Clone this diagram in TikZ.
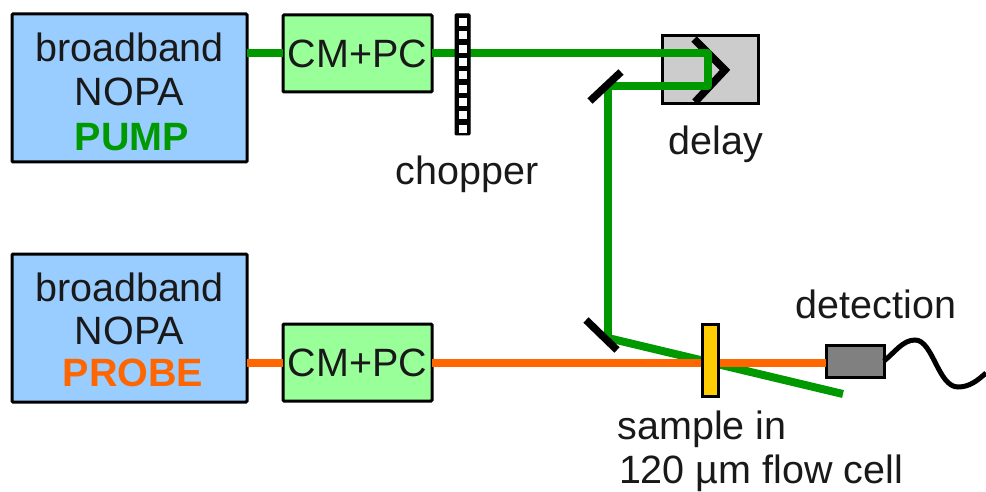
\documentclass[tikz,border=0pt]{standalone}
\usepackage{fontspec}
\setmainfont{Liberation Sans}
\definecolor{boxblue}{RGB}{153,204,255}
\definecolor{boxgreen}{RGB}{153,255,153}
\definecolor{beamgreen}{RGB}{0,153,0}
\definecolor{beamorange}{RGB}{255,102,0}
\definecolor{samplecol}{RGB}{255,204,0}
\definecolor{textdark}{RGB}{25,25,25}
\tikzset{
  every node/.style={font=\fontsize{39.5}{46}\selectfont,text=textdark,inner sep=0pt,outer sep=0pt},
  box/.style={draw=black,line width=3pt,rounded corners=1pt,minimum width=#1},
  nopa/.style={box=235pt,fill=boxblue,minimum height=148pt,align=center},
  cmpc/.style={box=149pt,fill=boxgreen,minimum height=77pt},
  greenbeam/.style={draw=beamgreen,line width=8pt,line join=round},
  orangebeam/.style={draw=beamorange,line width=8pt},
  mirror/.style={draw=black,line width=7.5pt}
}
\begin{document}
\begin{tikzpicture}[x=1pt,y=-1pt]
\useasboundingbox (0,0) rectangle (986,492);
% boxes
\node[nopa,anchor=north west] (pump) at (12,14) {};
\node (pumpa) at (129.5,47) {broadband};
\node (pumpb) at (129.5,92) {NOPA};
\node[text=beamgreen,font=\fontsize{39.5}{46}\selectfont\bfseries] (pumpc) at (132,137) {PUMP};
\node[nopa,anchor=north west] (probe) at (12,254) {};
\node (probea) at (129.5,287) {broadband};
\node (probeb) at (129.5,331) {NOPA};
\node[text=beamorange,font=\fontsize{39.5}{46}\selectfont\bfseries] (probec) at (133,373) {PROBE};
\node[cmpc,anchor=north west] (cm1) at (283,15) {CM+PC};
\node[cmpc,anchor=north west] (cm2) at (283,324) {CM+PC};
% delay
\node[draw=black,line width=3pt,fill=black!20,minimum width=96pt,minimum height=68pt,anchor=north west] (delaybox) at (662,36) {};
% coordinates
\coordinate (turn1) at (708,53.5);
\coordinate (turn2) at (708,86);
\coordinate (m1) at (608,86);
\coordinate (m2) at (608,338);
\coordinate (beamend) at (843,394);
% beams
\draw[greenbeam] (pump.east |- cm1.west) -- (cm1.west);
\node[draw=black,line width=3pt,fill=black!50,minimum width=58pt,minimum height=32pt,anchor=north west] (det) at (826,345) {};
\draw[orangebeam] (probe.east |- cm2.west) -- (cm2.west);
\draw[greenbeam] (m2) -- (beamend);
\draw[orangebeam] (cm2.east) -- (det.west |- cm2.east);
\node[draw=black,line width=3pt,fill=samplecol,minimum width=16pt,minimum height=72pt,anchor=north west] (sample) at (702,324) {};
\draw[line width=7.5pt,black] (694,39) -- (725,70) -- (695,102);
\draw[greenbeam] (cm1.east) -- (turn1) -- (turn2) -- (m1) -- (m2);
% chopper
\node[draw=black,fill=black,line width=1pt,rounded corners=1pt,minimum width=15pt,minimum height=121pt,anchor=north west] (chopper) at (455,14) {};
\foreach \i in {0,...,8}{
  \fill[white] (459,{18+13.33*\i}) rectangle (467,{26+13.33*\i});
}
% mirrors
\draw[mirror] (590,101) -- (621,72);
\draw[mirror] (586,320) -- (617,350);
% fibre
\coordinate (fibreend) at (986,373);
\draw[black,line width=5pt] (det.east) .. controls (895,352) and (903,340) .. (915,340)
  .. controls (933,340) and (938,387) .. (958,387) .. controls (970,387) and (978,380) .. (fibreend);
% labels
\node (choppertext) at (467,174) {chopper};
\node (delaytext) at (716,144) {delay};
\node (dettext) at (876,304) {detection};
\node (sampletext) at (702,429) {sample in};
\node (celltext) at (761,473) {120 µm flow cell};
\end{tikzpicture}
\end{document}
